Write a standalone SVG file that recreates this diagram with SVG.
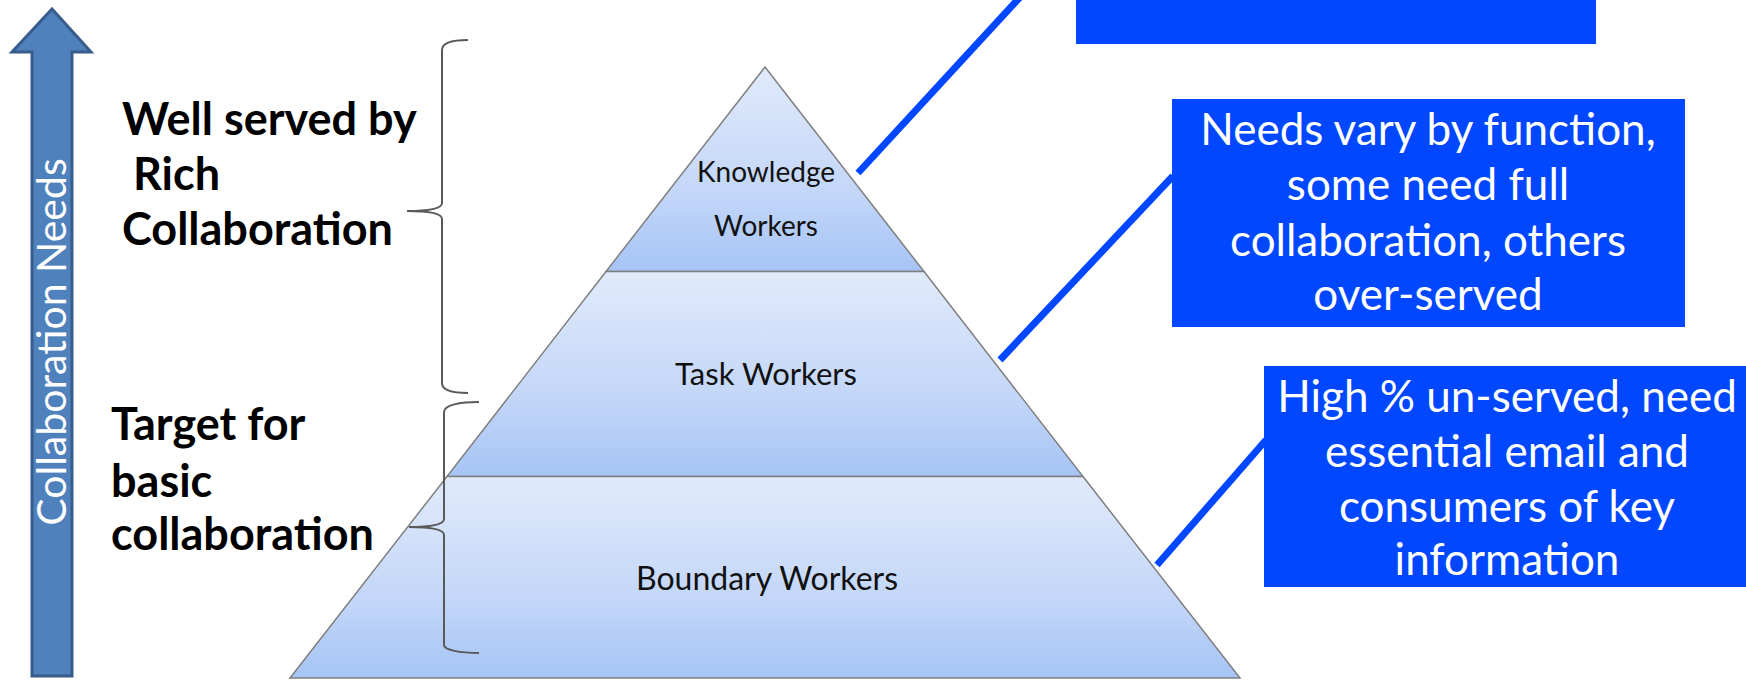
<svg xmlns="http://www.w3.org/2000/svg" width="1746" height="681" viewBox="0 0 1746 681">
<style>
.tier{stroke:#7f7f7f;stroke-width:1.5}
.tl{font-family:Lato,"Open Sans",sans-serif;fill:#111;text-anchor:middle}
.side{font-family:Lato,"Open Sans",sans-serif;font-weight:bold;font-size:45px;fill:#000}
.box{fill:#0047ff}
.bt{font-family:Lato,"Open Sans",sans-serif;font-size:44px;fill:#fff;text-anchor:middle}
.brace{fill:none;stroke:#595959;stroke-width:2}
.conn{stroke:#0047ff;stroke-width:7;fill:none}
</style>
<defs>
<linearGradient id="g" x1="0" y1="0" x2="0" y2="1">
<stop offset="0" stop-color="#e0eafb"/>
<stop offset="0.6" stop-color="#c4d7f8"/>
<stop offset="1" stop-color="#a6c4f6"/>
</linearGradient>
</defs>
<rect width="1746" height="681" fill="#fff"/>

<g id="arrow">
<polygon points="52,9 91,52 72,52 72,676 32,676 32,52 12,52" fill="#4f81bd" stroke="#385d8a" stroke-width="3" stroke-linejoin="miter"/>
<text transform="translate(66,342) rotate(-90)" text-anchor="middle" font-family="Lato,'Open Sans',sans-serif" font-size="41" fill="#fff">Collaboration Needs</text>
</g>

<g id="label-rich">
<text class="side" x="122" y="135">Well served by</text>
<text class="side" x="133" y="190">Rich</text>
<text class="side" x="122" y="245">Collaboration</text>
</g>
<g id="label-basic">
<text class="side" x="111" y="440">Target for</text>
<text class="side" x="111" y="497">basic</text>
<text class="side" x="111" y="550">collaboration</text>
</g>

<g id="tier-knowledge">
<polygon class="tier" fill="url(#g)" points="765,67 924,271.5 606,271.5"/>
<text class="tl" x="766" y="182" font-size="28">Knowledge</text>
<text class="tl" x="766" y="236" font-size="28">Workers</text>
</g>
<g id="tier-task">
<polygon class="tier" fill="url(#g)" points="606,271.5 924,271.5 1083,476.5 447,476.5"/>
<text class="tl" x="766" y="385" font-size="31">Task Workers</text>
</g>
<g id="tier-boundary">
<polygon class="tier" fill="url(#g)" points="447,476.5 1083,476.5 1240,678 290,678"/>
<text class="tl" x="767" y="590" font-size="32">Boundary Workers</text>
</g>

<g id="brace-upper">
<path class="brace" d="M468,40 C452,40 442,43 442,50 L442,203 C442,208 432,211 407,211 C432,211 442,214 442,219 L442,383 C442,390 452,393 468,393"/>
</g>
<g id="brace-lower">
<path class="brace" d="M479,402 C460,402 444,405 444,412 L444,519 C444,524 434,527 409,527 C434,527 444,530 444,535 L444,645 C444,650 460,653 479,653"/>
</g>

<g id="connectors">
<line class="conn" x1="858" y1="173" x2="1022" y2="-5"/>
<line class="conn" x1="1000" y1="360" x2="1173" y2="176"/>
<line class="conn" x1="1157" y1="565" x2="1266" y2="440"/>
</g>

<g id="box-top">
<rect class="box" x="1076" y="-10" width="520" height="54"/>
</g>
<g id="box-middle">
<rect class="box" x="1172" y="99" width="513" height="228"/>
<text class="bt" x="1428" y="145">Needs vary by function,</text>
<text class="bt" x="1428" y="200">some need full</text>
<text class="bt" x="1428" y="256">collaboration, others</text>
<text class="bt" x="1428" y="310">over-served</text>
</g>
<g id="box-bottom">
<rect class="box" x="1264" y="366" width="490" height="221"/>
<text class="bt" x="1507" y="412">High % un-served, need</text>
<text class="bt" x="1507" y="467">essential email and</text>
<text class="bt" x="1507" y="522">consumers of key</text>
<text class="bt" x="1507" y="575">information</text>
</g>
</svg>
